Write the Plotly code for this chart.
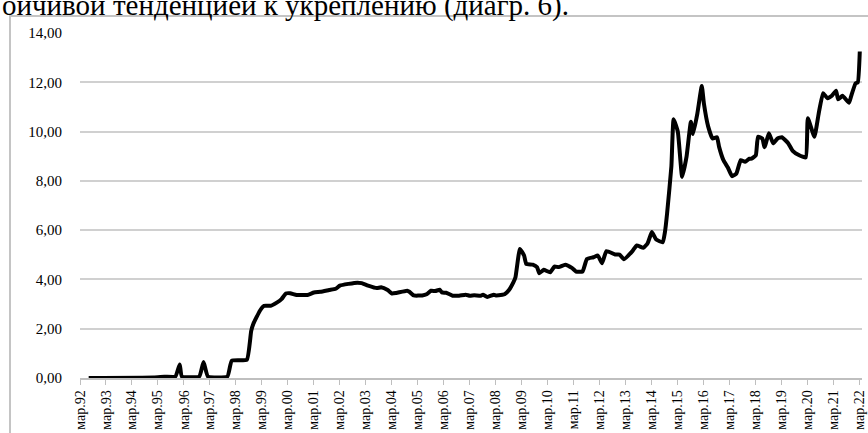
import plotly.graph_objects as go

dates = [
    "1992-07-01", "1995-01-01", "1995-06-01", "1995-11-01", "1996-01-01", "1996-02-01",
    "1996-10-01", "1996-12-01", "1997-02-01", "1997-11-01", "1998-01-01", "1998-08-01",
    "1998-10-01", "1998-11-01", "1999-02-01", "1999-04-01", "1999-07-01", "1999-10-01",
    "1999-12-01", "2000-02-01", "2000-04-01", "2000-07-01", "2000-12-01", "2001-03-01",
    "2001-06-01", "2001-10-01", "2002-01-01", "2002-03-01", "2002-07-01", "2002-11-01",
    "2003-01-01", "2003-04-01", "2003-08-01", "2003-10-01", "2004-01-01", "2004-03-01",
    "2004-05-01", "2004-10-01", "2004-11-01", "2005-01-01", "2005-05-01", "2005-07-01",
    "2005-09-01", "2005-11-01", "2006-01-01", "2006-02-01", "2006-04-01", "2006-07-01",
    "2006-10-01", "2007-01-01", "2007-03-01", "2007-05-01", "2007-08-01", "2007-09-01",
    "2007-11-01", "2008-02-01", "2008-03-01", "2008-06-01", "2008-07-01", "2008-09-01",
    "2008-11-01", "2008-12-01", "2009-02-01", "2009-04-01", "2009-05-01", "2009-08-01",
    "2009-10-01", "2009-11-01", "2010-01-01", "2010-04-01", "2010-06-01", "2010-08-01",
    "2010-11-01", "2011-02-01", "2011-04-01", "2011-07-01", "2011-09-01", "2011-12-01",
    "2012-02-01", "2012-04-01", "2012-06-01", "2012-10-01", "2012-12-01", "2013-02-01",
    "2013-06-01", "2013-08-01", "2013-11-01", "2014-01-01", "2014-03-01", "2014-05-01",
    "2014-08-01", "2014-09-01", "2014-10-01", "2014-12-01", "2015-01-01", "2015-03-01",
    "2015-05-01", "2015-07-01", "2015-09-01", "2015-10-01", "2015-12-01", "2016-02-01",
    "2016-03-01", "2016-05-01", "2016-07-01", "2016-09-01", "2016-10-01", "2016-12-01",
    "2017-02-01", "2017-04-01", "2017-06-01", "2017-08-01", "2017-10-01", "2017-12-01",
    "2018-01-01", "2018-03-01", "2018-04-01", "2018-06-01", "2018-07-01", "2018-09-01",
    "2018-11-01", "2019-01-01", "2019-03-01", "2019-06-01", "2019-08-01", "2019-11-01",
    "2020-02-01", "2020-03-01", "2020-06-01", "2020-08-01", "2020-10-01", "2020-12-01",
    "2021-02-01", "2021-04-01", "2021-05-01", "2021-07-01", "2021-10-01", "2021-11-01",
    "2022-01-01", "2022-02-01", "2022-03-01",
]

values = [
    0.00, 0.02, 0.05, 0.06, 0.55, 0.06,
    0.06, 0.65, 0.06, 0.06, 0.70, 0.74,
    1.90, 2.20, 2.73, 2.93, 2.93, 3.07,
    3.20, 3.43, 3.44, 3.37, 3.37, 3.47,
    3.50, 3.57, 3.62, 3.75, 3.82, 3.87,
    3.85, 3.75, 3.65, 3.68, 3.57, 3.43,
    3.45, 3.54, 3.50, 3.35, 3.35, 3.40,
    3.54, 3.53, 3.58, 3.47, 3.46, 3.34,
    3.34, 3.38, 3.34, 3.36, 3.34, 3.38,
    3.29, 3.38, 3.35, 3.38, 3.40, 3.57,
    3.88, 4.09, 5.24, 4.97, 4.63, 4.60,
    4.49, 4.25, 4.39, 4.29, 4.52, 4.50,
    4.60, 4.47, 4.32, 4.32, 4.83, 4.90,
    4.97, 4.66, 5.15, 5.01, 5.01, 4.82,
    5.15, 5.38, 5.28, 5.47, 5.92, 5.62,
    5.51, 5.92, 6.67, 8.60, 10.50, 10.00,
    8.16, 8.97, 10.40, 9.90, 10.74, 11.85,
    11.15, 10.20, 9.72, 9.77, 9.38, 8.84,
    8.54, 8.19, 8.30, 8.84, 8.77, 8.90,
    8.90, 9.04, 9.79, 9.72, 9.36, 9.93,
    9.52, 9.72, 9.77, 9.52, 9.22, 9.04,
    8.95, 10.54, 9.79, 10.74, 11.56, 11.35,
    11.45, 11.66, 11.31, 11.45, 11.17, 11.45,
    11.96, 12.00, 13.25,
]

tick_years = list(range(1992, 2023))
tick_dates = [f"{y}-03-01" for y in tick_years]
tick_labels = [f"мар.{str(y)[2:]}" for y in tick_years]

y_ticks = [0, 2, 4, 6, 8, 10, 12, 14]

caption = "ойчивой тенденцией к укреплению (диагр. 6)."

serif = "Liberation Serif, Times New Roman, serif"

fig = go.Figure()
fig.add_trace(go.Scatter(
    x=dates, y=values, mode="lines",
    line=dict(color="#000000", width=4, shape="spline", smoothing=0.4),
    hoverinfo="skip", showlegend=False,
))

fig.update_layout(
    width=868, height=433,
    margin=dict(l=80, r=6, t=33, b=55),
    paper_bgcolor="white", plot_bgcolor="white",
    separators=", ",
    font=dict(family=serif, color="#000000", size=15),
    xaxis=dict(
        type="date",
        automargin=False,
        range=["1992-03-01", "2022-04-01"],
        tickvals=tick_dates, ticktext=tick_labels,
        tickangle=-90,
        showgrid=False, zeroline=False,
        showline=True, linecolor="#bfbfbf", linewidth=1.5,
        ticks="outside", ticklen=5, tickcolor="#bfbfbf", tickwidth=1,
        tickfont=dict(family=serif, size=14, color="#000000"),
    ),
    yaxis=dict(
        automargin=False,
        range=[0, 14],
        tickvals=y_ticks,
        tickformat=".2f",
        showgrid=True, gridcolor="#d0d0d0", gridwidth=1.5,
        zeroline=False, showline=False, ticks="",
        ticklabelstandoff=17,
        tickfont=dict(family=serif, size=15, color="#000000"),
    ),
    shapes=[dict(
        type="rect", xref="paper", yref="paper",
        x0=-0.0895, x1=1.2, y0=-0.4, y1=1.049,
        line=dict(color="#c4c4c4", width=2), fillcolor="rgba(0,0,0,0)",
        layer="below",
    )],
    annotations=[dict(
        text=caption, xref="paper", yref="paper",
        x=-0.102, y=1.08, xanchor="left", yanchor="middle",
        showarrow=False, font=dict(family=serif, size=29, color="#000000"),
    )],
)

fig.write_html(
    "out.html",
    config={"displayModeBar": False},
    post_script="document.body.style.margin='0';document.body.style.overflow='hidden';",
)
